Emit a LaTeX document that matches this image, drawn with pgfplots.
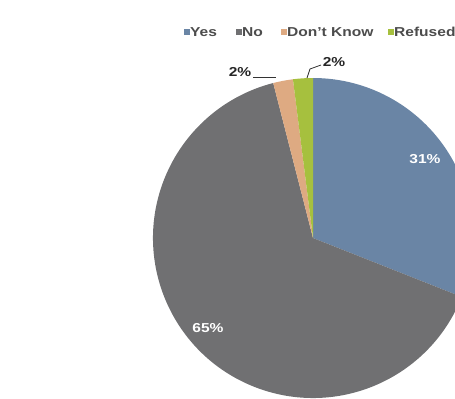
\documentclass[border=0pt]{standalone}
\usepackage{graphicx}
\usepackage{pgfplots}
\usepackage{pgfplotstable}
\pgfplotsset{compat=1.18}
\usepackage{fontspec}
\setmainfont{Liberation Sans}
\definecolor{cYes}{RGB}{106,133,165}
\definecolor{cNo}{RGB}{112,112,114}
\definecolor{cDK}{RGB}{222,170,130}
\definecolor{cRef}{RGB}{166,192,62}
\pgfplotstableread{
label value
Yes 31
No 65
DontKnow 2
Refused 2
}\piedata
\newcommand\lbl[1]{\scalebox{1.2}[1]{\fontsize{13}{15}\selectfont\bfseries #1}}
\begin{document}
\begin{tikzpicture}
\useasboundingbox (0,0) rectangle (455bp,399bp);
\pgfplotstablegetelem{0}{value}\of\piedata \let\vA\pgfplotsretval
\pgfplotstablegetelem{1}{value}\of\piedata \let\vB\pgfplotsretval
\pgfplotstablegetelem{2}{value}\of\piedata \let\vC\pgfplotsretval
\pgfplotstablegetelem{3}{value}\of\piedata \let\vD\pgfplotsretval
\pgfmathsetmacro\aA{90}
\pgfmathsetmacro\aB{\aA-3.6*\vA}
\pgfmathsetmacro\aC{\aB-3.6*\vB}
\pgfmathsetmacro\aD{\aC-3.6*\vC}
\pgfmathsetmacro\aE{\aD-3.6*\vD}
\begin{axis}[x=1bp,y=1bp,xmin=0,xmax=455,ymin=0,ymax=399,hide axis,clip=true,
  anchor=origin, at={(0,0)}]
\fill[cYes] (axis cs:313,161) -- ++(\aA:160bp) arc[start angle=\aA,end angle=\aB,radius=160bp] -- cycle;
\fill[cNo] (axis cs:313,161) -- ++(\aB:160bp) arc[start angle=\aB,end angle=\aC,radius=160bp] -- cycle;
\fill[cDK] (axis cs:313,161) -- ++(\aC:160bp) arc[start angle=\aC,end angle=\aD,radius=160bp] -- cycle;
\fill[cRef] (axis cs:313,161) -- ++(\aD:160bp) arc[start angle=\aD,end angle=\aE,radius=160bp] -- cycle;
% data labels
\node[white] at (axis cs:425,240) {\lbl{\vA\%}};
\node[white] at (axis cs:208,71) {\lbl{\vB\%}};
\node[black!85] at (axis cs:240,327) {\lbl{\vC\%}};
\node[black!85] at (axis cs:334,337) {\lbl{\vD\%}};
\draw[black!80,line width=0.8bp] (axis cs:253,322) -- (axis cs:276,322);
\draw[black!80,line width=0.8bp] (axis cs:321,334) -- (axis cs:310,330) -- (axis cs:307,321);
% legend
\fill[cYes] (axis cs:184,364) rectangle (axis cs:190,370);
\node[anchor=west,black!70,inner sep=0pt] at (axis cs:190,367) {\lbl{Yes}};
\fill[cNo] (axis cs:236,364) rectangle (axis cs:242,370);
\node[anchor=west,black!70,inner sep=0pt] at (axis cs:242,367) {\lbl{No}};
\fill[cDK] (axis cs:281,364) rectangle (axis cs:287,370);
\node[anchor=west,black!70,inner sep=0pt] at (axis cs:287,367) {\lbl{Don't Know}};
\fill[cRef] (axis cs:388,364) rectangle (axis cs:394,370);
\node[anchor=west,black!70,inner sep=0pt] at (axis cs:394,367) {\lbl{Refused}};
\end{axis}
\end{tikzpicture}
\end{document}
